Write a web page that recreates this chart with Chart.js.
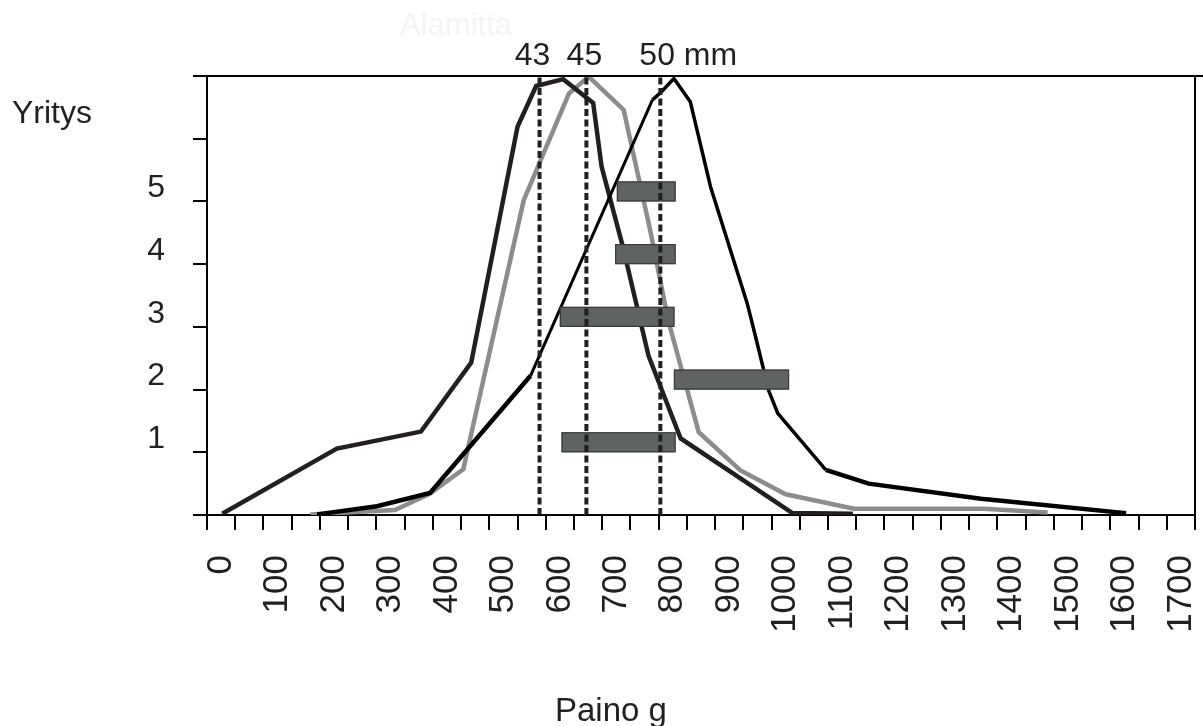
<!DOCTYPE html>
<html>
<head>
<meta charset="utf-8">
<script src="https://cdn.jsdelivr.net/npm/chart.js@4.4.0/dist/chart.umd.min.js"></script>
<style>
html,body{margin:0;padding:0;background:#ffffff;}
#wrap{width:1203px;height:726px;position:relative;}
</style>
</head>
<body>
<div id="wrap"><canvas id="c" width="1203" height="726"></canvas></div>
<script>
// ---- data (weight in g on x, relative frequency on the "Yritys" scale on y) ----
const weightsA = [2, 205, 354, 443, 525, 558, 606, 659, 674, 711, 757, 814, 1012, 1119];
const freqA    = [0.02, 1.06, 1.33, 2.43, 6.19, 6.84, 6.95, 6.57, 5.55, 4.30, 2.54, 1.22, 0.03, 0.02];

const weightsB = [158, 308, 370, 429, 536, 616, 651, 713, 760, 792, 846, 920, 1000, 1121, 1351, 1464];
const freqB    = [0.01, 0.08, 0.34, 0.73, 5.02, 6.72, 6.99, 6.46, 4.54, 3.10, 1.32, 0.71, 0.33, 0.10, 0.10, 0.04];

const weightsC = [170, 276, 370, 548, 764, 778, 802, 831, 867, 932, 947, 970, 986, 1071, 1147, 1346, 1603];
const freqC    = [0.01, 0.14, 0.35, 2.22, 6.62, 6.73, 6.96, 6.59, 5.23, 3.37, 2.83, 1.98, 1.62, 0.72, 0.50, 0.26, 0.03];

// company weight ranges (horizontal bars)
const companies  = [1, 2, 3, 4, 5];
const rangeStart = [603, 802, 600, 698, 701];
const rangeEnd   = [805, 1006, 803, 805, 805];

// mesh sizes (dashed reference lines)
const meshLabels  = ['43', '45', '50 mm'];
const meshWeights = [564, 647, 778];

// axis ticks
const xTickValues = Array.from({length: 35}, (_, i) => i * 50);   // 0..1700 step 50
const yTickLabels = ['', '1', '2', '3', '4', '5', '', ''];        // 0..7

const FONT = "'Liberation Sans', Arial, Helvetica, sans-serif";
const INK = '#231f20';

function pts(xs, ys) { return xs.map((x, i) => ({x: x, y: ys[i]})); }

const datasets = [];
meshWeights.forEach((w) => {
  datasets.push({
    data: [{x: w, y: 0}, {x: w, y: 7}],
    borderColor: INK, borderWidth: 4, borderDash: [7, 3.5], borderCapStyle: 'butt',
    pointRadius: 0, showLine: true, fill: false
  });
});
datasets.push({ // index 3 : black curve
  data: pts(weightsC, freqC), borderColor: '#000000', borderWidth: 4,
  segment: { borderWidth: (c) => c.p0DataIndex === 3 ? 3 : (c.p0DataIndex >= 4 && c.p0DataIndex <= 12 ? 3.5 : 4.5) },
  pointRadius: 0, showLine: true, fill: false, tension: 0
});
datasets.push({ // index 4 : dark curve
  data: pts(weightsA, freqA), borderColor: INK, borderWidth: 4.5,
  pointRadius: 0, showLine: true, fill: false, tension: 0
});
datasets.push({ // index 5 : grey curve
  data: pts(weightsB, freqB), borderColor: '#8c8c8c', borderWidth: 4.5,
  pointRadius: 0, showLine: true, fill: false, tension: 0
});

const overlay = {
  id: 'overlay',
  beforeDatasetDraw(chart, args) {
    if (args.index !== 2) return;
    const ctx = chart.ctx, xs = chart.scales.x, ys = chart.scales.y;
    ctx.save();
    companies.forEach((c, i) => {
      const x0 = xs.getPixelForValue(rangeStart[i]);
      const x1 = xs.getPixelForValue(rangeEnd[i]);
      const yb = ys.getPixelForValue(c);
      const h = 20;
      ctx.fillStyle = '#5f6363';
      ctx.fillRect(x0, yb - h, x1 - x0, h);
      ctx.strokeStyle = '#3a3a3a';
      ctx.lineWidth = 1.2;
      ctx.strokeRect(x0 + 0.5, yb - h + 0.5, x1 - x0 - 1, h - 1);
    });
    ctx.restore();
  },
  afterDraw(chart) {
    const ctx = chart.ctx, a = chart.chartArea, xs = chart.scales.x;
    ctx.save();
    // box: top and right borders
    ctx.strokeStyle = '#000';
    ctx.lineWidth = 2;
    ctx.beginPath();
    ctx.moveTo(a.left, a.top); ctx.lineTo(chart.width, a.top);
    ctx.moveTo(a.right, a.top); ctx.lineTo(a.right, a.bottom);
    ctx.stroke();
    // texts
    ctx.fillStyle = INK;
    ctx.font = '32px ' + FONT;
    ctx.textBaseline = 'alphabetic';
    const dx = [-7, -2, -21];
    const al = ['center', 'center', 'left'];
    meshLabels.forEach((t, i) => {
      ctx.textAlign = al[i];
      ctx.fillText(t, xs.getPixelForValue(meshWeights[i]) + dx[i], 65);
    });
    ctx.textAlign = 'left';
    ctx.fillText('Yritys', 12, 123);
    ctx.font = '33px ' + FONT;
    ctx.fillText('Paino g', 555, 721);
    ctx.fillStyle = '#f3f5f5';
    ctx.font = '31px ' + FONT;
    ctx.fillText('Alamitta', 400, 35);
    ctx.restore();
  }
};

new Chart(document.getElementById('c'), {
  type: 'scatter',
  data: { datasets: datasets },
  options: {
    responsive: false,
    animation: false,
    devicePixelRatio: 1,
    layout: { padding: { left: 0, top: 76, right: 8, bottom: 0 } },
    plugins: { legend: { display: false }, tooltip: { enabled: false } },
    scales: {
      x: {
        type: 'linear', min: -25, max: 1725,
        afterBuildTicks: (s) => { s.ticks = xTickValues.map(v => ({value: v})); },
        afterFit: (s) => { s.height = 211; s.paddingLeft = 0; s.paddingRight = 0; },
        grid: { display: true, drawOnChartArea: false, drawTicks: true, tickLength: 15, offset: true, color: '#000', lineWidth: 2 },
        border: { display: true, color: '#000', width: 2 },
        ticks: {
          autoSkip: false, minRotation: 90, maxRotation: 90, padding: 25,
          color: INK, font: { family: FONT, size: 35 },
          callback: (v) => (v % 100 === 0 ? String(v) : '')
        }
      },
      y: {
        type: 'linear', min: 0, max: 7,
        afterFit: (s) => { s.width = 207; s.paddingTop = 0; s.paddingBottom = 0; },
        grid: { display: true, drawOnChartArea: false, drawTicks: true, tickLength: 14, color: '#000', lineWidth: 2 },
        border: { display: true, color: '#000', width: 2 },
        ticks: {
          stepSize: 1, padding: 28, labelOffset: -13,
          color: INK, font: { family: FONT, size: 32 },
          callback: (v) => yTickLabels[v] || ''
        }
      }
    }
  },
  plugins: [overlay]
});
</script>
</body>
</html>
